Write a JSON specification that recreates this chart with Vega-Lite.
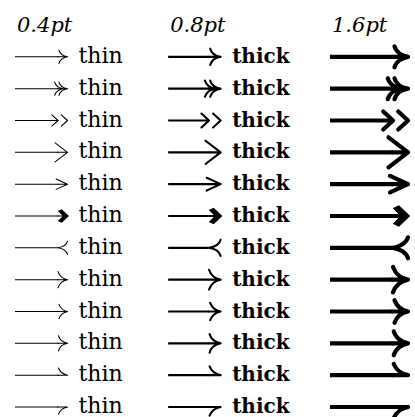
{
  "$schema": "https://vega.github.io/schema/vega-lite/v6.json",
  "width": 415,
  "height": 417,
  "padding": 0,
  "autosize": "none",
  "background": "white",
  "config": {"view": {"stroke": null}},
  "datasets": {
    "arrows": [
      {"w": 0.4, "row": 1, "tip": "to", "label": "thin"},
      {"w": 0.4, "row": 2, "tip": "to2", "label": "thin"},
      {"w": 0.4, "row": 3, "tip": "sep", "label": "thin"},
      {"w": 0.4, "row": 4, "tip": "big", "label": "thin"},
      {"w": 0.4, "row": 5, "tip": "barb", "label": "thin"},
      {"w": 0.4, "row": 6, "tip": "fill", "label": "thin"},
      {"w": 0.4, "row": 7, "tip": "rev", "label": "thin"},
      {"w": 0.4, "row": 8, "tip": "cm", "label": "thin"},
      {"w": 0.4, "row": 9, "tip": "ct", "label": "thin"},
      {"w": 0.4, "row": 10, "tip": "lt", "label": "thin"},
      {"w": 0.4, "row": 11, "tip": "left", "label": "thin"},
      {"w": 0.4, "row": 12, "tip": "right", "label": "thin"},
      {"w": 0.8, "row": 1, "tip": "to", "label": "thick"},
      {"w": 0.8, "row": 2, "tip": "to2", "label": "thick"},
      {"w": 0.8, "row": 3, "tip": "sep", "label": "thick"},
      {"w": 0.8, "row": 4, "tip": "big", "label": "thick"},
      {"w": 0.8, "row": 5, "tip": "barb", "label": "thick"},
      {"w": 0.8, "row": 6, "tip": "fill", "label": "thick"},
      {"w": 0.8, "row": 7, "tip": "rev", "label": "thick"},
      {"w": 0.8, "row": 8, "tip": "cm", "label": "thick"},
      {"w": 0.8, "row": 9, "tip": "ct", "label": "thick"},
      {"w": 0.8, "row": 10, "tip": "lt", "label": "thick"},
      {"w": 0.8, "row": 11, "tip": "left", "label": "thick"},
      {"w": 0.8, "row": 12, "tip": "right", "label": "thick"},
      {"w": 1.6, "row": 1, "tip": "to", "label": ""},
      {"w": 1.6, "row": 2, "tip": "to2", "label": ""},
      {"w": 1.6, "row": 3, "tip": "sep", "label": ""},
      {"w": 1.6, "row": 4, "tip": "big", "label": ""},
      {"w": 1.6, "row": 5, "tip": "barb", "label": ""},
      {"w": 1.6, "row": 6, "tip": "fill", "label": ""},
      {"w": 1.6, "row": 7, "tip": "rev", "label": ""},
      {"w": 1.6, "row": 8, "tip": "cm", "label": ""},
      {"w": 1.6, "row": 9, "tip": "ct", "label": ""},
      {"w": 1.6, "row": 10, "tip": "lt", "label": ""},
      {"w": 1.6, "row": 11, "tip": "left", "label": ""},
      {"w": 1.6, "row": 12, "tip": "right", "label": ""}
    ],
    "headers": [
      {"w": 0.4, "row": 0, "label": "0.4pt"},
      {"w": 0.8, "row": 0, "label": "0.8pt"},
      {"w": 1.6, "row": 0, "label": "1.6pt"}
    ]
  },
  "encoding": {
    "x": {"field": "w", "type": "quantitative", "axis": null,
          "scale": {"type": "pow", "exponent": 0.08, "domain": [0.4, 1.6], "range": [15, 330], "zero": false, "nice": false}},
    "y": {"field": "row", "type": "quantitative", "axis": null,
          "scale": {"domain": [0, 12], "range": [25, 407], "zero": false, "nice": false}}
  },
  "layer": [
    {
      "data": {"name": "arrows"},
      "mark": {"type": "rule", "color": "black", "strokeCap": "butt",
               "x2Offset": {"expr": "datum.w > 1 ? 63 : (datum.w > 0.5 ? 40.5 : 43.5)"}},
      "encoding": {
        "x2": {"field": "w"},
        "strokeWidth": {"field": "w", "type": "quantitative", "legend": null,
                        "scale": {"domain": [0, 1.6], "range": [0, 4.2]}}
      }
    },
    {
      "data": {"name": "arrows"},
      "mark": {"type": "point", "filled": false, "color": "black", "fill": null, "opacity": 1,
               "strokeCap": "round", "strokeJoin": "round",
               "xOffset": {"expr": "datum.w > 1 ? 78 : 52.5"}},
      "encoding": {
        "shape": {"field": "tip", "type": "nominal", "legend": null,
                  "scale": {
                    "domain": ["to", "to2", "sep", "big", "barb", "fill", "rev", "cm", "ct", "lt", "left", "right"],
                    "range": [
                      "M-0.9,-0.7 C-0.8,-0.32 -0.4,-0.07 0,0 C-0.4,0.07 -0.8,0.32 -0.9,0.7 M-1.05,0 L0,0",
                      "M-0.9,-0.7 C-0.8,-0.32 -0.4,-0.07 0,0 C-0.4,0.07 -0.8,0.32 -0.9,0.7 M-1.35,-0.7 C-1.25,-0.32 -0.85,-0.07 -0.45,0 C-0.85,0.07 -1.25,0.32 -1.35,0.7 M-1.05,0 L0,0",
                      "M-1.65,-0.6 L-1,0 L-1.65,0.6 M-0.65,-0.6 L0,0 L-0.65,0.6",
                      "M-1.3,-1 L0,0 L-1.3,1 M-1.05,0 L0,0",
                      "M-1.2,-0.55 L0,0 L-1.2,0.55 M-1.05,0 L0,0",
                      "M-1.05,0 L-0.4,0",
                      "M0,-0.7 C-0.1,-0.32 -0.55,-0.07 -1,0 C-0.55,0.07 -0.1,0.32 0,0.7",
                      "M-1,-0.85 C-0.85,-0.4 -0.45,-0.08 0,0 C-0.45,0.08 -0.85,0.4 -1,0.85 M-1.05,0 L0,0",
                      "M-0.9,-0.75 C-0.75,-0.35 -0.4,-0.08 0,0 C-0.4,0.08 -0.75,0.35 -0.9,0.75 M-1.05,0 L0,0",
                      "M-0.95,-0.8 C-0.85,-0.4 -0.45,-0.1 0,0 C-0.45,0.1 -0.85,0.4 -0.95,0.8 M-1.05,0 L0,0",
                      "M-0.95,-0.75 C-0.8,-0.35 -0.4,-0.08 0,0 M-1.05,0 L0,0",
                      "M-0.95,0.75 C-0.8,0.35 -0.4,0.08 0,0 M-1.05,0 L0,0"
                    ]}},
        "size": {"field": "w", "type": "quantitative", "legend": null,
                 "scale": {"type": "linear", "domain": [0.4, 1.6], "range": [361, 900], "zero": false}},
        "strokeWidth": {"field": "w", "type": "quantitative", "legend": null,
                        "scale": {"domain": [0, 1.6], "range": [0, 4.2]}}
      }
    },
    {
      "data": {"name": "arrows"},
      "transform": [{"filter": "datum.tip == 'fill'"}],
      "mark": {"type": "point", "filled": true, "color": "black", "opacity": 1, "strokeWidth": 0,
               "shape": "M0.15,0 L-0.6,-0.72 L-1.02,-0.52 L-0.5,0 L-1.02,0.52 L-0.6,0.72 Z",
               "xOffset": {"expr": "datum.w > 1 ? 78 : 52.5"}},
      "encoding": {
        "size": {"field": "w", "type": "quantitative", "legend": null,
                 "scale": {"type": "linear", "domain": [0.4, 1.6], "range": [361, 900], "zero": false}}
      }
    },
    {
      "data": {"name": "arrows"},
      "transform": [{"filter": "datum.w == 0.4"}],
      "mark": {"type": "text", "align": "left", "baseline": "alphabetic", "xOffset": 63.5, "dy": 6,
               "font": "DejaVu Serif", "fontSize": 22, "color": "black"},
      "encoding": {"text": {"field": "label"}}
    },
    {
      "data": {"name": "arrows"},
      "transform": [{"filter": "datum.w == 0.8"}],
      "mark": {"type": "text", "align": "left", "baseline": "alphabetic", "xOffset": 64, "dy": 6,
               "font": "DejaVu Serif", "fontSize": 20, "fontWeight": "bold", "color": "black"},
      "encoding": {"text": {"field": "label"}}
    },
    {
      "data": {"name": "headers"},
      "mark": {"type": "text", "align": "left", "baseline": "alphabetic", "xOffset": 2, "dy": 7,
               "font": "DejaVu Serif", "fontSize": 21, "fontStyle": "italic", "color": "black"},
      "encoding": {"text": {"field": "label"}}
    }
  ]
}
